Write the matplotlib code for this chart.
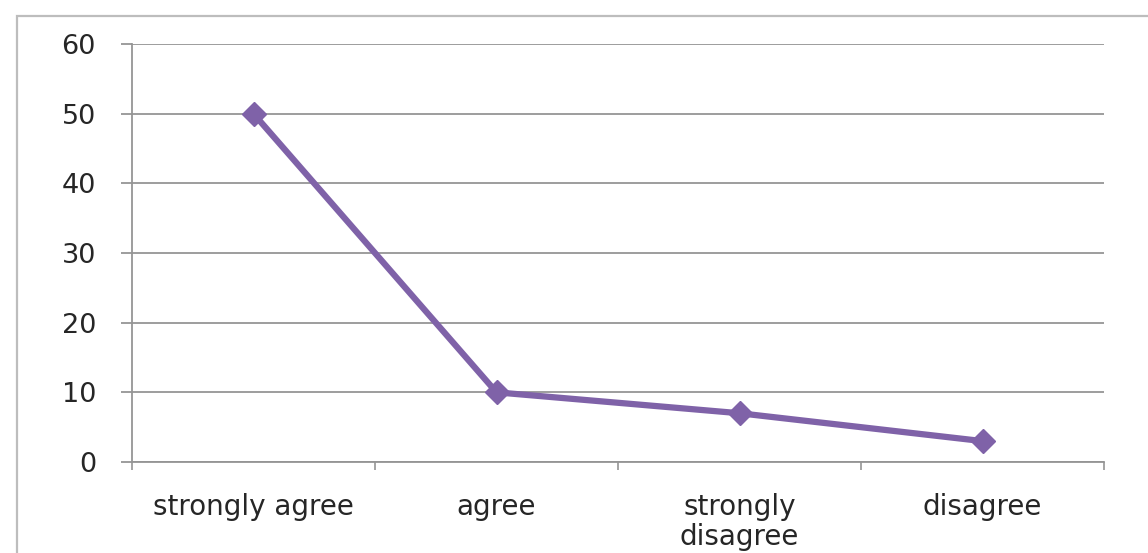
import matplotlib
matplotlib.use("Agg")
import matplotlib.pyplot as plt
from matplotlib.patches import Rectangle
import numpy as np

categories = ["strongly agree", "agree", "strongly\ndisagree", "disagree"]
values = [50, 10, 7, 3]
y_ticks = [0, 10, 20, 30, 40, 50, 60]

line_color = "#7F62A8"
grid_color = "#959595"
text_color = "#262626"

W, H = 1148, 553
fig = plt.figure(figsize=(W / 100, H / 100), dpi=100)
fig.patch.set_facecolor("white")

# outer chart frame
fig.patches.append(Rectangle((17 / W, -0.05), 1.1, 1 - 16 / H + 0.05,
                             transform=fig.transFigure, fill=False,
                             edgecolor="#BDBDBD", linewidth=1.6))

ax = fig.add_axes([132 / W, 1 - 462 / H, (1104 - 132) / W, (462 - 44) / H])
x = np.arange(len(categories))
ax.plot(x, values, color=line_color, linewidth=4.5, marker="D",
        markersize=12, markerfacecolor=line_color, markeredgecolor=line_color,
        zorder=3, solid_joinstyle="round")

ax.set_xlim(-0.5, len(categories) - 0.5)
ax.set_ylim(0, 60)
ax.set_yticks(y_ticks)
ax.set_yticklabels([str(v) for v in y_ticks], fontsize=19.5,
                   family="DejaVu Sans", color=text_color)
ax.yaxis.grid(True, color=grid_color, linewidth=1.3)
ax.set_axisbelow(True)

ax.set_xticks(np.arange(-0.5, len(categories), 1.0))
ax.set_xticklabels([])
ax.set_xticks(x, minor=True)
ax.set_xticklabels(categories, minor=True, fontsize=20, family="DejaVu Sans",
                   color=text_color, linespacing=1.1)
ax.tick_params(axis="x", which="minor", length=0, pad=22)
ax.tick_params(axis="x", which="major", length=6, color=grid_color, width=1.2)
ax.tick_params(axis="y", length=8, color=grid_color, width=1.3, pad=18)
for lbl in ax.get_xticklabels(minor=True):
    lbl.set_verticalalignment("top")

for side in ["top", "right"]:
    ax.spines[side].set_visible(False)
for side in ["left", "bottom"]:
    ax.spines[side].set_color(grid_color)
    ax.spines[side].set_linewidth(1.3)

fig.savefig("out.png", dpi=100, facecolor="white")
